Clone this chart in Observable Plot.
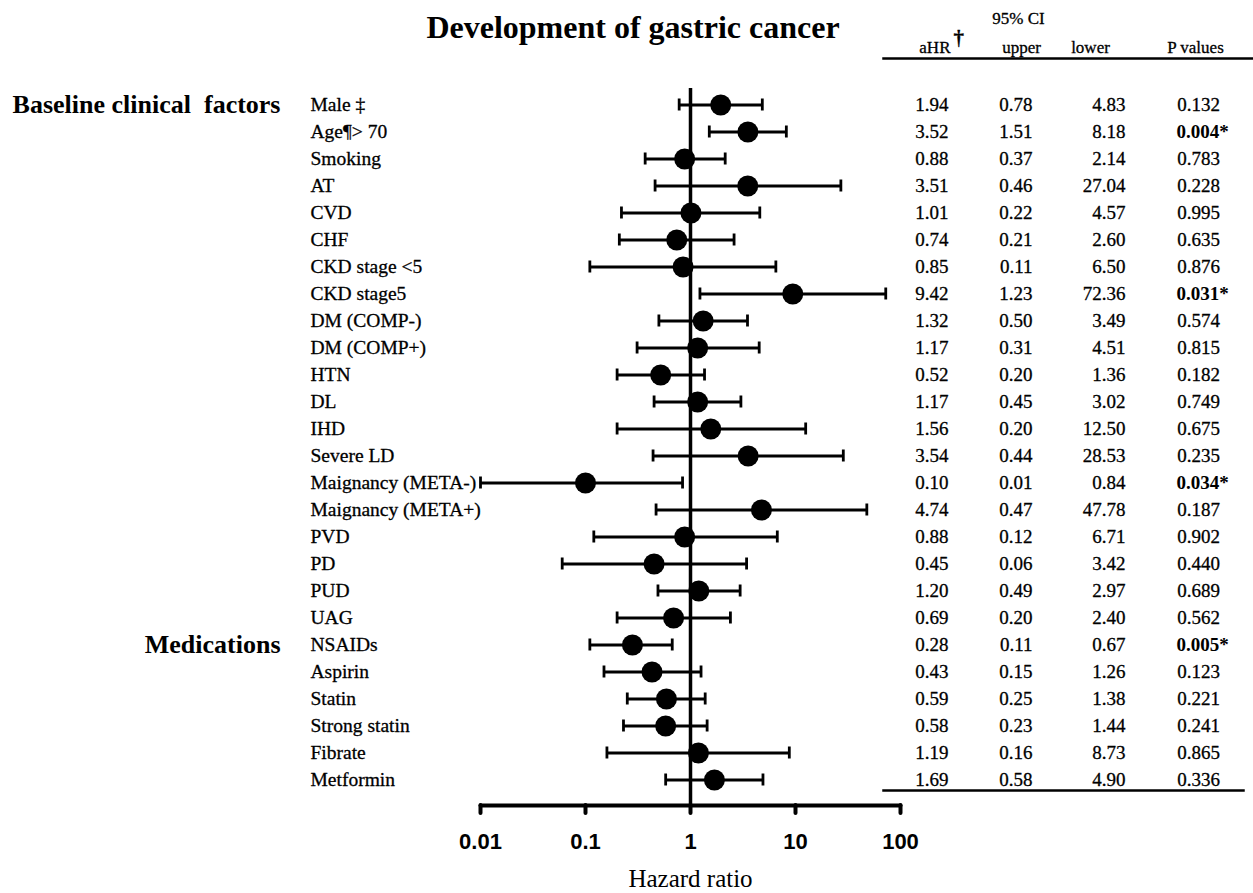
<!DOCTYPE html>
<html><head><meta charset="utf-8">
<script src="https://cdn.jsdelivr.net/npm/d3@7"></script>
<script src="https://cdn.jsdelivr.net/npm/@observablehq/plot@0.6"></script>
<style>
body{margin:0;background:#fff;}
#wrap{position:relative;width:1253px;height:893px;overflow:hidden;font-family:"Liberation Serif","Times New Roman",serif;}
#title{position:absolute;left:0;top:11px;width:1266px;text-align:center;font-size:32px;font-weight:bold;line-height:32px;color:#000;}
#forest{position:absolute;left:0;top:0;}
#table{position:absolute;left:870px;top:0;}
</style>
</head><body>
<div id="wrap">
  <div id="title">Development of gastric cancer</div>
  <div id="forest"></div>
  <div id="table"></div>
</div>
<script>
const labels = ["Male ‡","Age¶> 70","Smoking","AT","CVD","CHF","CKD stage <5","CKD stage5","DM (COMP-)","DM (COMP+)","HTN","DL","IHD","Severe LD","Maignancy (META-)","Maignancy (META+)","PVD","PD","PUD","UAG","NSAIDs","Aspirin","Statin","Strong statin","Fibrate","Metformin"];
const aHR = [1.94,3.52,0.88,3.51,1.01,0.74,0.85,9.42,1.32,1.17,0.52,1.17,1.56,3.54,0.10,4.74,0.88,0.45,1.20,0.69,0.28,0.43,0.59,0.58,1.19,1.69];
// column headed "upper" in the source table (the lower CI bound)
const ciUpperCol = [0.78,1.51,0.37,0.46,0.22,0.21,0.11,1.23,0.50,0.31,0.20,0.45,0.20,0.44,0.01,0.47,0.12,0.06,0.49,0.20,0.11,0.15,0.25,0.23,0.16,0.58];
// column headed "lower" in the source table (the upper CI bound)
const ciLowerCol = [4.83,8.18,2.14,27.04,4.57,2.60,6.50,72.36,3.49,4.51,1.36,3.02,12.50,28.53,0.84,47.78,6.71,3.42,2.97,2.40,0.67,1.26,1.38,1.44,8.73,4.90];
const pValues = ["0.132","0.004*","0.783","0.228","0.995","0.635","0.876","0.031*","0.574","0.815","0.182","0.749","0.675","0.235","0.034*","0.187","0.902","0.440","0.689","0.562","0.005*","0.123","0.221","0.241","0.865","0.336"];
const groupNames = ["Baseline clinical  factors","Medications"];
const groupRows = ["Male ‡","NSAIDs"];
const xTicks = [0.01,0.1,1,10,100];
const columns = ["aHR","upper","lower","P values"];

const rows = labels.map((label,i)=>({label, hr:aHR[i], lo:ciUpperCol[i], hi:ciLowerCol[i], p:pValues[i]}));
const groups = groupNames.map((name,i)=>({name, row:groupRows[i]}));
const cells = rows.flatMap(r=>[
  {label:r.label, col:"aHR", text:r.hr.toFixed(2)},
  {label:r.label, col:"upper", text:r.lo.toFixed(2)},
  {label:r.label, col:"lower", text:r.hi.toFixed(2)},
  {label:r.label, col:"P values", text:r.p, sig:r.p.includes("*")}
]);

const serif = "Liberation Serif, Times New Roman, serif";
const ink = {fill: "#000", stroke: "#000", strokeWidth: 0.3};

const forest = Plot.plot({
  width: 940, height: 893,
  marginLeft: 480, marginRight: 40, marginTop: 88, marginBottom: 88,
  style: {fontFamily: serif, background: "none", overflow: "visible", color: "#000"},
  x: {type: "log", domain: [0.01, 100]},
  y: {type: "band", domain: labels, padding: 0, insetTop: 1.44, insetBottom: 10.44, axis: null},
  marks: [
    Plot.ruleX([1], {stroke: "#000", strokeWidth: 3.5}),
    Plot.frame({anchor: "bottom", stroke: "#000", strokeWidth: 4, strokeLinecap: "round"}),
    Plot.axisX({ticks: xTicks, tickFormat: d => String(d), tickSize: 8, tickPadding: 20,
      strokeWidth: 4, strokeLinecap: "round", fontSize: 22, fontWeight: "bold",
      fontFamily: "Liberation Sans, Arial, sans-serif", label: null}),
    Plot.ruleY(rows, {y: "label", x1: "lo", x2: "hi", stroke: "#000", strokeWidth: 2.8}),
    Plot.tickX(rows, {y: "label", x: "lo", stroke: "#000", strokeWidth: 2.8, insetTop: 7.5, insetBottom: 7.5}),
    Plot.tickX(rows, {y: "label", x: "hi", stroke: "#000", strokeWidth: 2.8, insetTop: 7.5, insetBottom: 7.5}),
    Plot.dot(rows, {y: "label", x: "hr", r: 10.5, fill: "#000", stroke: "none"}),
    Plot.text(rows, {y: "label", text: "label", frameAnchor: "left", textAnchor: "start", dx: -170, fontSize: 19.5, ...ink}),
    Plot.text(groups, {y: "row", text: "name", frameAnchor: "left", textAnchor: "end", dx: -200, fontSize: 26, fontWeight: "bold", fill: "#000"}),
    Plot.text(["Hazard ratio"], {frameAnchor: "bottom", lineAnchor: "middle", dy: 73, fontSize: 25, fill: "#000"})
  ]
});
document.getElementById("forest").append(forest);

const head = {frameAnchor: "top", lineAnchor: "middle", fontSize: 17, ...ink};
const table = Plot.plot({
  width: 383, height: 893,
  marginLeft: 0, marginRight: 0, marginTop: 58, marginBottom: 103,
  style: {fontFamily: serif, background: "none", overflow: "visible", color: "#000"},
  x: {type: "point", domain: columns, padding: 0, insetLeft: 78, insetRight: 53, axis: null},
  y: {type: "band", domain: labels, padding: 0, insetTop: 31.44, insetBottom: -4.56, axis: null},
  marks: [
    Plot.frame({anchor: "top", insetLeft: 13, stroke: "#000", strokeWidth: 2.5}),
    Plot.frame({anchor: "bottom", insetLeft: 13, insetRight: 10, stroke: "#000", strokeWidth: 2.5}),
    Plot.text(cells, {filter: d => d.col === "aHR" || d.col === "upper", x: "col", y: "label", text: "text", textAnchor: "end", fontSize: 19, ...ink}),
    Plot.text(cells, {filter: d => d.col === "lower", x: "col", y: "label", text: "text", textAnchor: "end", dx: 9, fontSize: 19, ...ink}),
    Plot.text(cells, {filter: d => d.col === "P values" && !d.sig, x: "col", y: "label", text: "text", textAnchor: "middle", dx: -2, fontSize: 19, ...ink}),
    Plot.text(cells, {filter: d => d.col === "P values" && d.sig, x: "col", y: "label", text: "text", textAnchor: "middle", dx: 2, fontSize: 19, fontWeight: "bold", fill: "#000"}),
    Plot.text([columns[0]], {x: d => d, text: d => d, textAnchor: "end", dx: 2, dy: -11, ...head}),
    Plot.text(["†"], {x: () => columns[0], text: d => d, textAnchor: "start", dx: 5, dy: -20, ...head, fontSize: 21, fontWeight: "bold"}),
    Plot.text(["95% CI"], {x: () => columns[1], text: d => d, textAnchor: "middle", dx: -14, dy: -40, ...head}),
    Plot.text([columns[1]], {x: d => d, text: d => d, textAnchor: "middle", dx: -11, dy: -11, ...head}),
    Plot.text([columns[2]], {x: d => d, text: d => d, textAnchor: "middle", dx: -26, dy: -11, ...head}),
    Plot.text([columns[3]], {x: d => d, text: d => d, textAnchor: "middle", dx: -5, dy: -11, ...head})
  ]
});
document.getElementById("table").append(table);
</script>
</body></html>
